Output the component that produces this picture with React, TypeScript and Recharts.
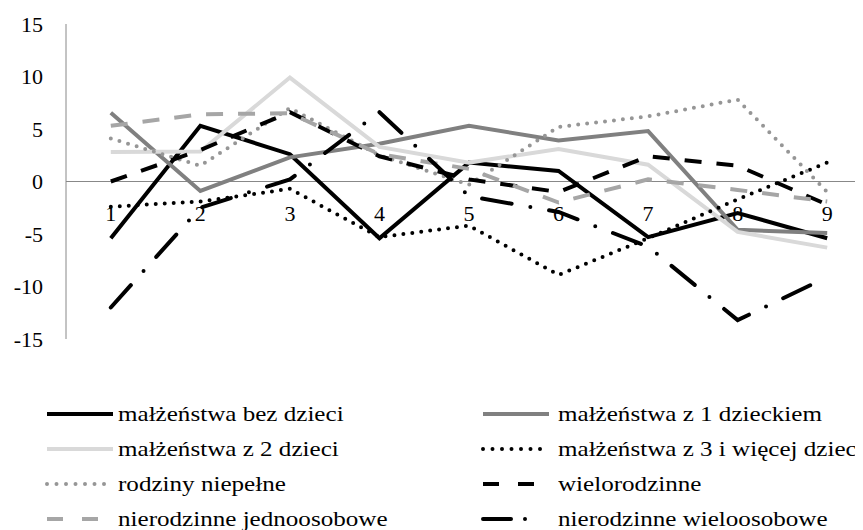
import { Line, LineChart, ReferenceDot, ReferenceLine, XAxis, YAxis } from "recharts";

const categories = ["1", "2", "3", "4", "5", "6", "7", "8", "9"];

const bezDzieci = [-5.4, 5.3, 2.6, -5.4, 1.8, 1.0, -5.3, -3.0, -5.4];
const z1Dzieckiem = [6.55, -0.9, 2.3, 3.6, 5.3, 3.9, 4.8, -4.6, -4.9];
const z2Dzieci = [2.8, 2.85, 9.9, 3.3, 1.8, 3.1, 1.6, -4.8, -6.3];
const z3Dzieci = [-2.4, -1.9, -0.7, -5.3, -4.2, -8.9, -5.4, -1.7, 1.8];
const niepelne = [4.1, 1.5, 7.0, 2.5, -0.3, 5.2, 6.2, 7.8, -1.0];
const wielorodzinne = [0.0, 3.0, 6.6, 2.4, 0.2, -1.0, 2.4, 1.5, -2.2];
const jednoosobowe = [5.3, 6.4, 6.5, 2.6, 1.2, -2.0, 0.2, -0.8, -1.9];
const wieloosobowe = [-12.0, -2.5, 0.2, 6.6, -1.4, -2.9, -6.2, -13.2, -9.1];

const yTicks = [-15, -10, -5, 0, 5, 10, 15];

const FONT = '"Times New Roman", "Liberation Serif", Tinos, "Noto Serif", "DejaVu Serif", serif';

// line styles, same order as the Excel legend
const series = [
  { key: "bez", name: "małżeństwa bez dzieci", values: bezDzieci, color: "#000000", dash: undefined, cap: "butt", legendDash: undefined },
  { key: "z1", name: "małżeństwa z 1 dzieckiem", values: z1Dzieckiem, color: "#808080", dash: undefined, cap: "butt", legendDash: undefined },
  { key: "z2", name: "małżeństwa z 2 dzieci", values: z2Dzieci, color: "#d9d9d9", dash: undefined, cap: "butt", legendDash: undefined },
  { key: "z3", name: "małżeństwa z 3 i więcej dzieci", values: z3Dzieci, color: "#000000", dash: "0 9", cap: "round", legendDash: "0 9.5" },
  { key: "niep", name: "rodziny niepełne", values: niepelne, color: "#969696", dash: "0 9", cap: "round", legendDash: "0 9.5" },
  { key: "wielo", name: "wielorodzinne", values: wielorodzinne, color: "#000000", dash: "17 15", cap: "butt", legendDash: "16 19" },
  { key: "jedno", name: "nierodzinne jednoosobowe", values: jednoosobowe, color: "#a6a6a6", dash: "17 15", cap: "butt", legendDash: "16 19" },
  { key: "wos", name: "nierodzinne wieloosobowe", values: wieloosobowe, color: "#000000", dash: "30 19 0 19", cap: "round", legendDash: "28 14 0 40" },
];

const data = categories.map((cat, i) => {
  const row: { [key: string]: string | number } = { cat };
  series.forEach((s) => {
    row[s.key] = s.values[i];
  });
  return row;
});

function LegendBlock() {
  return (
    <>
      {series.map((s, i) => {
        const row = Math.floor(i / 2);
        const col = i % 2;
        const top = 395 + row * 35;
        const lineLeft = col === 0 ? 37 : 473;
        const textLeft = col === 0 ? 110 : 550;
        return (
          <div key={s.key}>
            <svg
              width={72}
              height={10}
              style={{ position: "absolute", left: lineLeft, top: top + 6 }}
            >
              <line
                x1={2}
                y1={5}
                x2={68}
                y2={5}
                stroke={s.color}
                strokeWidth={4}
                strokeDasharray={s.legendDash}
                strokeLinecap={s.cap as "butt" | "round"}
              />
            </svg>
            <div
              style={{
                position: "absolute",
                left: textLeft,
                top,
                fontFamily: FONT,
                fontSize: 22,
                lineHeight: "22px",
                color: "#000",
                whiteSpace: "nowrap",
                transform: "scaleX(1.14)",
                transformOrigin: "left center",
              }}
            >
              {s.name}
            </div>
          </div>
        );
      })}
    </>
  );
}

export default function App() {
  return (
    <div
      style={{
        position: "relative",
        width: 855,
        height: 522,
        overflow: "hidden",
        background: "#fff",
      }}
    >
      <LineChart
        width={880}
        height={345}
        data={data}
        margin={{ top: 16, right: 16, bottom: 14, left: 0 }}
      >
        <XAxis dataKey="cat" hide height={0} padding={{ left: 44.8, right: 44.8 }} />
        <YAxis
          domain={[-15, 15]}
          ticks={yTicks}
          interval={0}
          width={58}
          tickLine={false}
          tickSize={0}
          tickMargin={23}
          axisLine={{ stroke: "#888888", strokeWidth: 1 }}
          tick={{ fill: "#000", fontSize: 22, fontFamily: FONT }}
        />
        <ReferenceLine y={0} stroke="#888888" strokeWidth={1} />
        {categories.map((c) => (
          <ReferenceDot
            key={c}
            x={c}
            y={0}
            r={0}
            fill="none"
            stroke="none"
            label={{
              value: c,
              position: "bottom",
              offset: 24,
              fill: "#000",
              fontSize: 22,
              fontFamily: FONT,
            }}
          />
        ))}
        {series.map((s) => (
          <Line
            key={s.key}
            type="linear"
            dataKey={s.key}
            name={s.name}
            stroke={s.color}
            strokeWidth={4}
            strokeDasharray={s.dash}
            strokeLinecap={s.cap as "butt" | "round"}
            dot={false}
            activeDot={false}
            isAnimationActive={false}
          />
        ))}
      </LineChart>
      <LegendBlock />
    </div>
  );
}
